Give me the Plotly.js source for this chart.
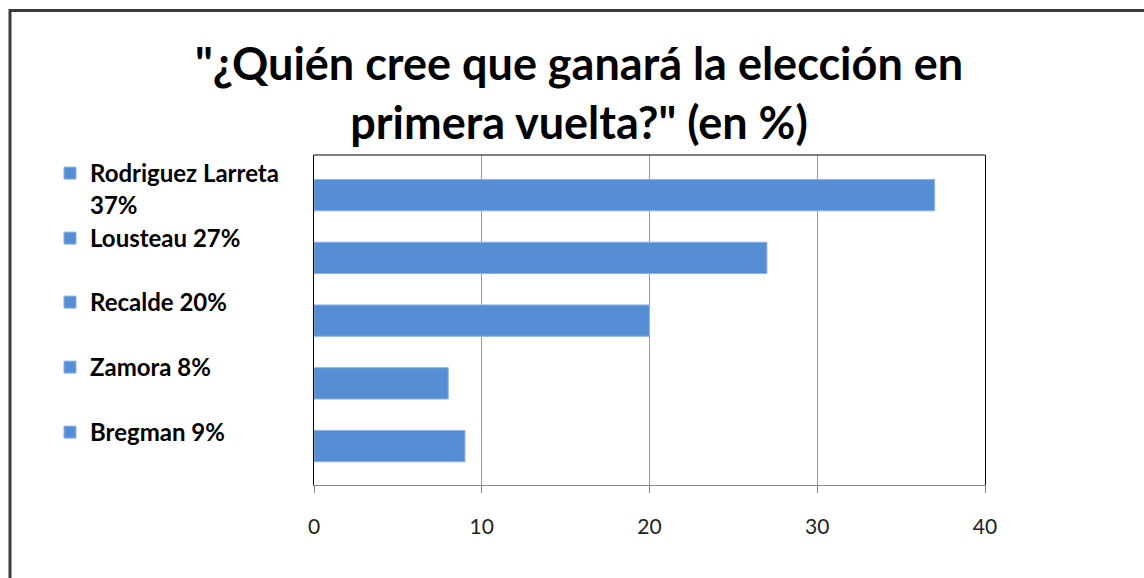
<!DOCTYPE html>
<html>
<head>
<meta charset="utf-8">
<script src="https://cdn.plot.ly/plotly-3.0.1.min.js"></script>
<style>
  html, body { margin: 0; padding: 0; background: #fff; }
  #chart { width: 1144px; height: 578px; }
</style>
</head>
<body>
<div id="chart"></div>
<script>
// ---- data ----
const candidates = ["Rodriguez Larreta", "Lousteau", "Recalde", "Zamora", "Bregman"];
const legendLabels = ["Rodriguez Larreta<br>37%", "Lousteau 27%", "Recalde 20%", "Zamora 8%", "Bregman 9%"];
const values = [37, 27, 20, 8, 9];
const xTicks = [0, 10, 20, 30, 40];
const titleText = '"¿Quién cree que ganará la elección en<br>primera vuelta?" (en %)';

// ---- layout helpers (pixel geometry of plot area) ----
const W = 1144, H = 578;
const plotL = 314, plotR = 985, plotT = 155, plotB = 485;
const legendTops = [151, 216, 280, 345, 410];
const legendX = 50;

const legendNames = ["legend", "legend2", "legend3", "legend4", "legend5"];
const traces = candidates.map((c, i) => ({
  type: "bar",
  orientation: "h",
  x: [values[i]],
  y: [c],
  name: legendLabels[i],
  width: 0.5,
  marker: { color: "#558ED5", line: { color: "#8DB3E2", width: 1 } },
  legend: legendNames[i],
  hoverinfo: "x+y"
}));

const layout = {
  width: W, height: H,
  paper_bgcolor: "#ffffff",
  plot_bgcolor: "#ffffff",
  margin: { l: plotL, r: W - plotR, t: plotT, b: H - plotB },
  barmode: "overlay",
  title: {
    text: titleText,
    font: { family: "Lato, 'Open Sans', sans-serif", size: 45, color: "#000", weight: "bold" },
    xref: "container", x: 579 / W, xanchor: "center",
    yref: "container", y: 1 - 80 / H, yanchor: "top"
  },
  xaxis: {
    range: [0, 40],
    tickvals: xTicks,
    ticktext: xTicks.map(String),
    showgrid: true, gridcolor: "#9a9a9a", gridwidth: 1,
    zeroline: false,
    showline: true, linecolor: "#8c8c8c", linewidth: 1,
    ticks: "outside", ticklen: 7, tickcolor: "#8c8c8c",
    ticklabelstandoff: 16,
    tickfont: { family: "Lato, 'Open Sans', sans-serif", size: 21, color: "#222" },
    fixedrange: true
  },
  yaxis: {
    type: "category",
    categoryorder: "array", categoryarray: candidates,
    range: [4.62, -0.64],
    showticklabels: false, ticks: "",
    showgrid: false, zeroline: false,
    showline: true, linecolor: "#000", linewidth: 1, mirror: true,
    fixedrange: true
  },
  shapes: [
    // plot area top border
    { type: "line", xref: "paper", yref: "paper", x0: 0, x1: 1, y0: 1, y1: 1,
      line: { color: "#000", width: 1 } },
    // outer chart frame (top + left visible)
    { type: "rect", xref: "paper", yref: "paper",
      x0: (10 - plotL) / (plotR - plotL), x1: (1160 - plotL) / (plotR - plotL),
      y0: (plotB - 600) / (plotB - plotT), y1: (plotB - 10.5) / (plotB - plotT),
      line: { color: "#3a3a3a", width: 3 } }
  ],
  showlegend: true
};

legendNames.forEach((ln, i) => {
  layout[ln] = {
    xref: "container", yref: "container",
    x: legendX / W, y: 1 - legendTops[i] / H,
    xanchor: "left", yanchor: "top",
    valign: "top",
    bgcolor: "rgba(0,0,0,0)", borderwidth: 0,
    font: { family: "Lato, 'Open Sans', sans-serif", size: 24, color: "#000", weight: "bold" },
    itemclick: false, itemdoubleclick: false
  };
});

Plotly.newPlot("chart", traces, layout, { displayModeBar: false, staticPlot: false });
</script>
</body>
</html>
